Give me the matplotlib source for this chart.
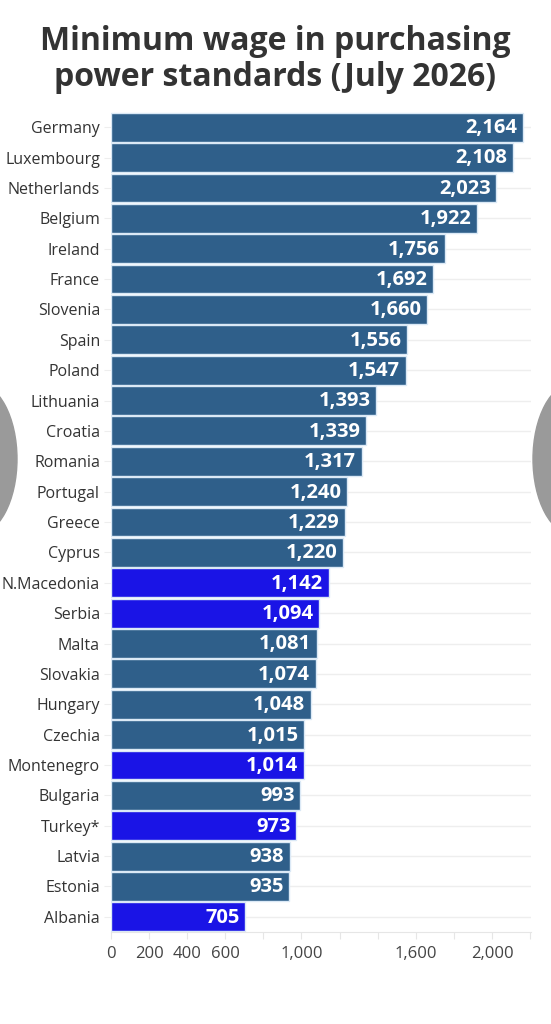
import numpy as np
import matplotlib
matplotlib.use("Agg")
import matplotlib.pyplot as plt
from matplotlib.patches import Circle

plt.rcParams['font.family'] = ['Open Sans', 'DejaVu Sans']

# ----------------------------
# Data
# ----------------------------
countries = ["Germany", "Luxembourg", "Netherlands", "Belgium", "Ireland", "France",
             "Slovenia", "Spain", "Poland", "Lithuania", "Croatia", "Romania",
             "Portugal", "Greece", "Cyprus", "N.Macedonia", "Serbia", "Malta",
             "Slovakia", "Hungary", "Czechia", "Montenegro", "Bulgaria", "Turkey*",
             "Latvia", "Estonia", "Albania"]
values = [2164, 2108, 2023, 1922, 1756, 1692, 1660, 1556, 1547, 1393, 1339, 1317,
          1240, 1229, 1220, 1142, 1094, 1081, 1074, 1048, 1015, 1014, 993, 973,
          938, 935, 705]
highlighted = ["N.Macedonia", "Serbia", "Montenegro", "Turkey*", "Albania"]

xticks = [0, 200, 400, 600, 800, 1000, 1200, 1400, 1600, 1800, 2000, 2200]
xtick_labels = ["0", "200", "400", "600", "", "1,000", "", "", "1,600", "", "2,000", ""]

base_color = "#2f5f8a"
hi_color = "#1a14e6"

# ----------------------------
# Figure
# ----------------------------
fig = plt.figure(figsize=(5.51, 10.24), dpi=100)
ax = fig.add_axes([0.2015, 0.0898, 0.7622, 0.8008])

y = np.arange(len(countries))
colors = [hi_color if c in highlighted else base_color for c in countries]

ax.barh(y, values, height=0.95, color=colors, edgecolor="#dbe9f6",
        linewidth=1.0, zorder=3)

for yi, v in zip(y, values):
    ax.text(v - 30, yi + 0.03, f"{v:,}", ha="right", va="center", color="white",
            fontsize=14.5, fontweight="bold", zorder=4)

ax.set_yticks(y)
ax.set_yticklabels(countries, fontsize=11.5, color="#333333")
ax.set_ylim(len(countries) - 0.5, -0.5)

ax.set_xticks(xticks)
ax.set_xticklabels(xtick_labels, fontsize=12, color="#444444")
ax.set_xlim(0, 2205)

# horizontal gridlines at each row
for yi in y:
    ax.axhline(yi, color="#eeeeee", linewidth=1.0, zorder=0)

for s in ["top", "right", "left"]:
    ax.spines[s].set_visible(False)
ax.spines["bottom"].set_color("#e6e6e6")
ax.tick_params(axis="x", length=5, color="#e6e6e6", pad=5)
ax.tick_params(axis="y", length=5, color="#eeeeee", pad=3)

fig.text(0.5, 0.942, "Minimum wage in purchasing\npower standards (July 2026)",
         ha="center", va="center", fontsize=23, fontweight="bold",
         color="#333333", linespacing=1.15)

# grey carousel buttons at the edges
for cx in [-24, 574]:
    fig.patches.append(Circle((cx / 551, 1 - 459 / 1024), 41 / 551,
                              transform=fig.transFigure, color="#9a9a9a",
                              zorder=10))

fig.savefig("out.png", dpi=100)
